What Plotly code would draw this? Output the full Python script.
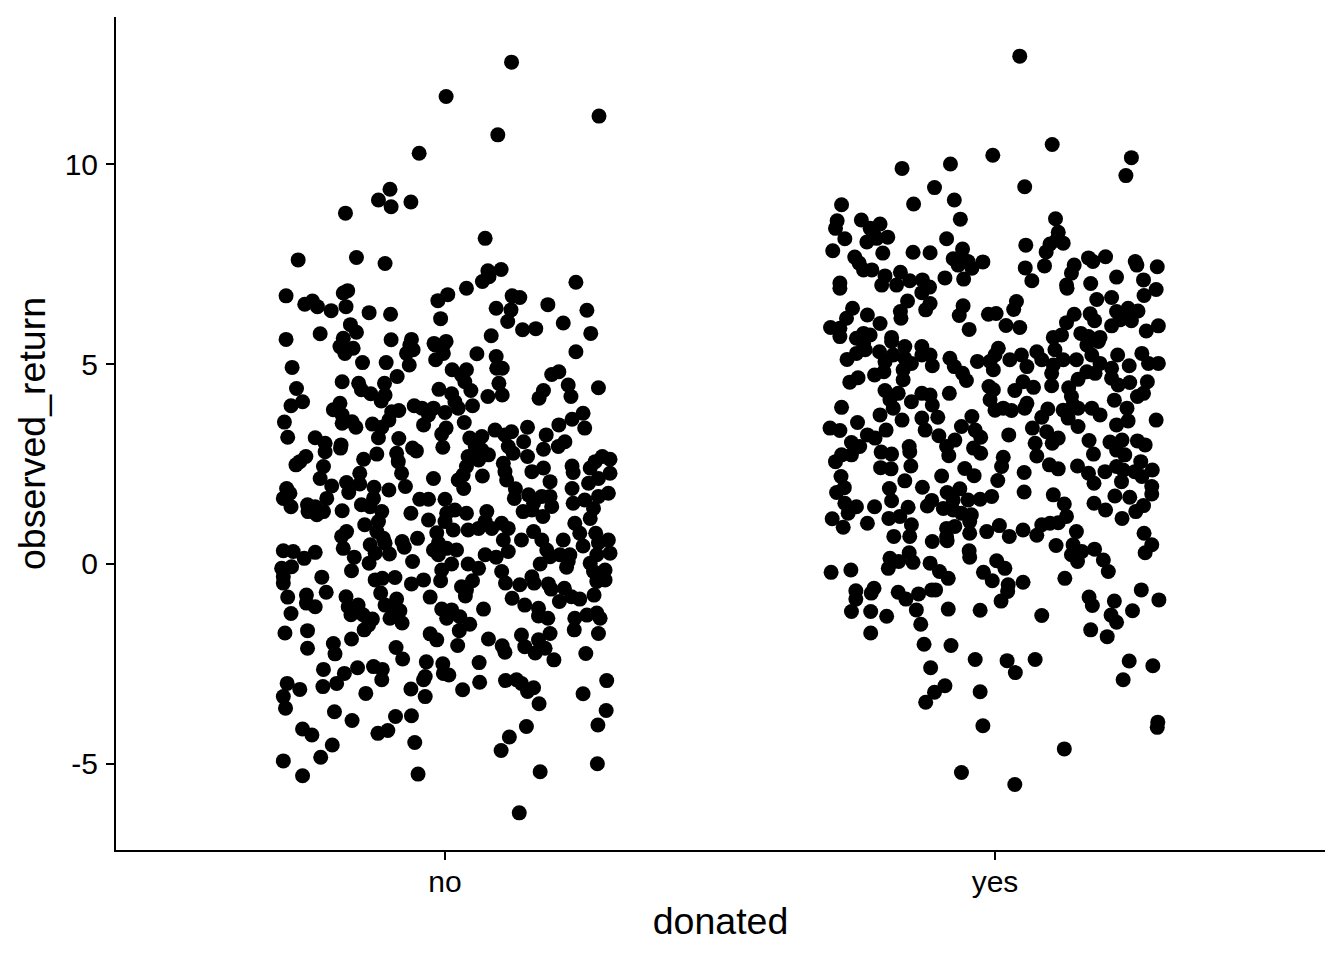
import plotly.graph_objects as go

categories = ["no", "yes"]
category_positions = [1, 2]
y_ticks = [-5, 0, 5, 10]
y_tick_labels = ["-5", "0", "5", "10"]

# (jittered category position, observed_return)
no_points = [
(1.121,12.56),(1.002,11.70),(1.280,11.21),(1.096,10.74),(.953,10.28),(.900,9.38),(.879,9.11),(.902,8.94),(.938,9.06),(.819,8.78),
(1.073,8.15),(.733,7.61),(.839,7.67),(.891,7.52),(1.102,7.37),(1.078,7.34),(1.080,7.19),(1.068,7.07),(1.238,7.05),(1.039,6.90),
(1.005,6.74),(.987,6.59),(.823,6.84),(.815,6.78),(.711,6.71),(.759,6.58),(.745,6.50),(.768,6.44),(.793,6.34),(.820,6.44),
(.862,6.29),(.901,6.25),(.992,6.14),(1.122,6.71),(1.136,6.67),(1.093,6.40),(1.120,6.36),(1.114,6.07),(1.187,6.49),(1.258,6.35),
(1.215,6.03),(1.141,5.86),(1.165,5.89),(1.265,5.77),(.828,5.99),(.839,5.80),(.773,5.76),(.815,5.65),(.711,5.62),(.902,5.61),
(.939,5.62),(1.084,5.71),(.980,5.52),(1.002,5.57),
(.809,5.44),(.818,5.27),(.833,5.40),(.936,5.48),(.930,5.27),(.942,5.36),(.935,4.98),(.982,5.48),(.997,5.48),(.997,5.27),(.983,5.11),
(1.058,5.26),(1.093,5.19),(1.104,4.90),(1.094,4.90),(1.238,5.31),(.722,4.92),(.850,5.04),(.893,5.04),(.913,4.69),
(1.013,4.86),(1.039,4.86),(1.030,4.73),(1.036,4.56),(1.047,4.34),(1.207,4.81),(1.194,4.74),(1.224,4.48),(1.229,4.19),(1.279,4.41),(1.179,4.34),(1.171,4.15),
(1.098,4.52),(1.104,4.23),(1.078,4.19),(.813,4.56),(.843,4.52),(.848,4.36),(.865,4.26),(.890,4.52),(.891,4.23),(.884,4.08),
(.730,4.39),(.741,4.06),(.720,3.96),(.989,4.37),(1.012,4.26),(1.018,4.06),(1.024,3.90),(1.050,3.96),
(.809,4.02),(.797,3.86),(.813,3.73),(.813,3.52),(.831,3.56),(.838,3.42),(.944,3.96),(.958,3.90),(.979,3.90),(.970,3.73),(1.000,3.79),(.961,3.48),
(.916,3.84),(.903,3.81),(.898,3.60),(.885,3.42),(.868,3.50),(.879,3.16),(1.035,3.54),(1.002,3.40),(.994,3.25),(.996,2.92),
(.708,3.55),(.714,3.17),(.764,3.16),(.782,3.02),(.782,2.81),(.811,2.98),(.810,2.90),(.916,3.14),(.941,2.90),(.948,2.83),
(.912,2.77),(.876,2.75),(.852,2.62),(.915,2.56),(.747,2.69),(.729,2.48),(.736,2.56),
(1.045,3.15),(1.067,3.19),(1.091,3.35),(1.121,3.31),(1.109,3.23),(1.150,3.42),(1.143,3.06),(1.184,3.23),(1.179,2.87),(1.207,3.48),(1.231,3.62),(1.251,3.77),(1.254,3.40),(1.218,3.06),(1.206,2.94),
(1.115,2.94),(1.124,2.77),(1.150,2.69),(1.055,2.94),(1.067,2.85),(1.042,2.69),(1.079,2.73),(1.061,2.60),(1.039,2.44),(1.106,2.52),(1.109,2.31),(1.033,2.23),(1.024,2.10),(1.034,1.89),(1.068,2.20),(1.112,2.10),
(.979,2.14),(.779,2.44),(.773,2.14),(.794,1.95),(.845,2.27),(.845,2.00),(.821,2.04),(.825,1.79),(.921,2.27),(.928,1.94),(.898,1.85),(.871,1.92),(.870,1.64),(.848,1.48),(.864,1.43),
(1.158,2.31),(1.179,2.40),(1.191,2.06),(1.128,1.88),(1.126,1.64),(1.152,1.73),(1.176,1.69),(1.191,1.69),(1.161,1.52),(1.194,1.44),(1.142,1.31),(1.158,1.35),(1.178,1.19),
(1.231,2.45),(1.233,2.29),(1.231,1.89),(1.286,2.69),(1.273,2.56),(1.264,2.40),(1.300,2.62),(1.300,2.27),(1.279,2.14),(1.261,2.02),(1.297,1.77),(1.279,1.69),(1.254,1.60),(1.233,1.52),(1.270,1.39),(1.264,1.14),(1.236,1.02),
(.712,1.89),(.706,1.64),(.720,1.43),(.718,1.77),(.750,1.48),(.751,1.31),(.764,1.43),(.767,1.23),(.779,1.31),(.785,1.64),(.813,1.33),
(.954,1.62),(.970,1.62),(1.000,1.62),(.938,1.27),(.970,1.10),(.885,1.31),(.879,1.06),(.854,.98),(.821,.81),(.812,.69),(.876,.81),(.888,.64),
(1.018,1.35),(1.003,1.27),(1.039,1.27),(1.000,1.06),(1.015,.85),(.985,.78),(1.076,1.31),(1.073,1.06),(1.042,.85),(1.061,.89),(1.085,.89),(1.103,1.02),(1.115,.89),(1.106,.60),(1.139,.60),(1.161,.81),(1.176,.60),(1.215,.60),(1.245,.77),(1.274,.77),(1.297,.60),
(.922,.56),(.950,.64),
(.706,.33),(.724,.31),(.744,.14),(.764,.29),(.815,.39),(.835,.17),(.830,-.17),(.862,.02),(.873,.27),(.864,.48),(.891,.52),(.899,.25),(.926,.42),(.941,.06),
(.979,.35),(.988,.23),(.988,.52),(1.003,.39),(1.021,.35),(1.012,.00),(.994,-.15),(.992,-.42),(1.042,.00),(1.061,-.11),(1.073,.23),(1.093,.17),(1.115,.31),(1.103,-.19),(1.110,-.48),(1.050,-.42),(1.030,-.57),(1.039,-.65),(1.037,-.80),
(1.185,.35),(1.191,.18),(1.173,.00),(1.209,.23),(1.227,.23),(1.224,.06),(1.221,-.08),(1.251,.45),(1.279,.53),(1.300,.27),(1.276,.23),(1.264,.02),(1.270,-.19),(1.291,-.15),(1.276,-.44),(1.291,-.40),(1.271,-.78),
(.703,-.11),(.721,-.07),(.706,-.32),(.706,-.48),(.776,-.33),(.784,-.71),(.714,-.83),(.748,-.78),(.748,-.98),(.764,-1.07),(.720,-1.24),
(.873,-.40),(.886,-.36),(.909,-.34),(.939,-.50),(.961,-.40),(.883,-.73),(.973,-.83),(.820,-.82),(.824,-1.07),(.842,-1.03),(.829,-1.27),(.851,-1.27),(.868,-1.38),(.861,-1.53),(.853,-1.65),
(.912,-.88),(.891,-1.03),(.903,-1.11),(.918,-1.17),(.900,-1.36),(.922,-1.48),(.994,-1.13),(1.012,-1.15),(1.003,-1.36),(1.027,-1.32),(1.045,-1.51),(1.026,-1.67),(.973,-1.75),(.985,-1.90),(1.023,-2.04),(1.070,-1.13),(1.079,-1.88),(1.104,-2.05),(1.109,-2.21),
(1.136,-.52),(1.158,-.32),(1.162,-.48),(1.188,-.50),(1.193,-.63),(1.217,-.61),(1.208,-.94),(1.230,-.82),(1.245,-.88),(1.122,-.86),(1.145,-1.03),(1.170,-1.11),(1.170,-1.30),(1.187,-1.36),
(1.236,-1.36),(1.258,-1.28),(1.276,-1.23),(1.282,-1.36),(1.235,-1.65),(1.279,-1.74),(1.191,-1.74),(1.139,-1.78),(1.170,-1.90),(1.145,-2.07),(1.164,-2.23),(1.182,-2.11),(1.198,-2.40),(1.256,-2.24),
(.709,-1.73),(.750,-1.67),(.750,-2.11),(.830,-1.88),(.797,-1.99),(.800,-2.25),(.911,-2.09),(.923,-2.38),(.779,-2.64),(.817,-2.74),(.841,-2.60),(.870,-2.57),(.886,-2.64),(.885,-2.90),(.803,-2.99),(.778,-3.07),
(.966,-2.45),(.996,-2.50),(1.062,-2.47),(.997,-2.74),(1.007,-2.78),(.964,-2.82),(.961,-2.90),(.938,-3.13),(.964,-3.32),(1.032,-3.15),(1.063,-2.96),
(1.110,-2.92),(1.130,-2.90),(1.139,-2.99),(1.161,-3.10),(1.150,-3.19),(1.171,-3.50),(1.148,-4.07),(1.117,-4.33),(1.102,-4.67),(1.173,-5.20),(1.135,-6.23),
(.713,-2.99),(.736,-3.14),(.706,-3.32),(.710,-3.61),(.856,-3.24),(.799,-3.70),(.831,-3.92),(.910,-3.82),(.939,-3.80),(.896,-4.17),(.878,-4.24),(.945,-4.47),(.951,-5.26),
(.741,-4.13),(.758,-4.28),(.795,-4.53),(.774,-4.84),(.706,-4.93),(.741,-5.30),(1.294,-2.92),(1.251,-3.25),(1.293,-3.67),(1.278,-4.03),(1.277,-5.00),
]

yes_points = [
(2.045,12.71),(2.104,10.50),(1.996,10.23),(2.248,10.17),(2.238,9.72),(1.919,10.01),(1.831,9.90),(2.054,9.44),(1.890,9.42),(1.852,9.01),
(1.926,9.11),(1.721,8.99),(1.937,8.63),(2.110,8.64),(1.713,8.59),(1.710,8.40),(1.757,8.61),(1.791,8.51),(1.773,8.40),(1.779,8.28),
(1.727,8.14),(1.805,8.18),(1.767,8.06),(1.785,8.15),(2.115,8.30),(1.912,8.14),(2.124,8.03),(2.100,8.01),(2.112,8.11),(2.056,7.98),
(2.093,7.81),(1.705,7.84),(1.796,7.78),(1.851,7.80),(1.882,7.79),(1.941,7.88),(1.745,7.68),(1.753,7.53),(1.761,7.36),(1.776,7.36),
(1.924,7.64),(1.939,7.69),(1.951,7.57),(1.933,7.48),(1.958,7.40),(1.978,7.56),(2.170,7.66),(2.178,7.57),(2.201,7.69),(2.255,7.57),
(2.258,7.48),(2.295,7.44),(2.144,7.48),(2.139,7.28),(2.055,7.41),(2.090,7.46),(2.067,7.09),(2.221,7.18),(2.270,7.11),(2.174,7.02),
(2.130,6.98),(2.131,6.90),(2.293,6.87),(2.271,6.72),(2.212,6.67),(2.185,6.62),(1.909,7.16),(1.943,7.13),(1.828,7.30),(1.800,7.21),
(1.794,6.98),(1.821,6.98),(1.845,7.09),(1.868,7.11),(1.881,6.93),(1.867,6.79),(1.718,7.03),(1.718,6.90),(1.841,6.58),(1.882,6.52),
(1.874,6.36),(1.828,6.32),(1.829,6.15),(1.942,6.46),(1.935,6.22),(2.039,6.57),(2.034,6.37),(1.988,6.25),(2.002,6.27),(2.020,5.97),
(2.045,5.92),(1.953,5.87),(1.741,6.40),(1.730,6.15),(1.701,5.92),(1.718,5.90),(1.768,6.23),(1.791,6.02),(1.761,5.77),(1.773,5.73),
(1.748,5.65),(1.718,5.69),(1.812,5.67),(2.144,6.25),(2.130,6.04),(2.173,6.26),(2.181,6.09),(2.221,6.32),(2.242,6.40),(2.260,6.33),
(2.236,6.23),(2.248,6.09),(2.212,5.96),(2.227,6.11),(2.297,5.96),(2.275,5.83),(2.121,5.73),(2.106,5.67),(2.156,5.77),(2.170,5.69),(2.191,5.67),
(1.761,5.52),(1.764,5.36),(1.748,5.27),(1.731,5.12),(1.812,5.57),(1.790,5.31),(1.815,5.23),(1.836,5.44),(1.836,5.15),(1.800,5.06),(1.798,4.81),(1.781,4.73),(1.848,5.02),(1.833,4.86),(1.833,4.61),(1.867,5.44),(1.882,5.23),(1.867,5.23),(1.886,4.96),
(1.751,4.66),(1.736,4.55),(1.918,5.15),(1.926,4.94),(1.941,4.77),(1.948,4.59),(1.917,4.27),(1.968,5.07),(1.991,5.07),(2.006,5.40),(2.000,5.23),(1.997,4.86),(2.027,5.11),(2.048,5.23),(2.058,4.94),(2.076,5.31),(2.085,5.11),(2.106,4.98),(2.103,4.77),(2.103,4.46),
(2.109,5.36),(2.124,5.11),(2.148,5.11),(2.167,5.48),(2.188,5.57),(2.176,5.23),(2.191,5.02),(2.182,4.77),(2.167,4.81),(2.151,4.62),(2.134,4.41),(2.139,4.19),(2.142,3.98),
(2.223,5.23),(2.267,5.27),(2.297,5.02),(2.279,5.02),(2.244,4.96),(2.212,4.90),(2.212,4.65),(2.224,4.48),(2.245,4.54),(2.277,4.56),(2.270,4.27),(2.259,4.19),(2.217,4.10),(2.240,3.90),(2.293,3.60),(2.242,3.58),(2.221,3.48),
(1.989,4.44),(1.997,4.36),(1.991,4.11),(2.000,3.85),(2.030,3.84),(2.036,4.34),(2.051,4.56),(2.070,4.42),(2.058,4.02),(2.054,3.90),(2.015,3.90),(2.096,3.88),(2.085,3.67),(2.124,3.85),(2.133,3.65),(2.151,3.44),(2.151,3.90),(2.176,3.90),(2.191,3.73),
(1.800,4.34),(1.809,4.11),(1.824,4.27),(1.815,3.90),(1.831,3.60),(1.791,3.73),(1.721,3.92),(1.750,3.54),(1.848,4.06),(1.867,4.27),(1.882,4.23),(1.886,3.98),(1.867,3.65),(1.896,3.67),(1.873,3.35),
(1.700,3.40),(1.718,3.34),(1.768,3.23),(1.782,3.15),(1.802,3.35),(1.958,3.69),(1.939,3.44),(1.964,3.35),(1.974,3.17),(1.898,3.21),(1.927,3.10),(1.912,2.94),(1.916,2.71),(1.961,2.90),(1.974,2.77),
(2.025,3.23),(2.068,3.40),(2.094,3.31),(2.115,3.15),(2.104,3.02),(2.073,3.02),(2.076,2.70),(2.015,2.67),(2.012,2.44),(2.005,2.09),(2.053,2.29),(2.053,1.80),
(2.099,2.48),(2.115,2.38),(2.150,2.45),(2.170,2.27),(2.171,3.09),(2.179,2.75),(2.180,2.02),(2.200,2.31),(2.209,3.05),(2.231,3.10),(2.259,3.08),(2.273,2.98),(2.221,2.85),(2.236,2.73),(2.221,2.44),(2.233,2.35),(2.230,2.06),(2.265,2.56),(2.254,2.31),(2.286,2.35),(2.267,2.19),(2.285,1.94),(2.285,1.75),(2.218,1.70),(2.245,1.67),(2.270,1.46),(2.256,1.31),(2.180,1.52),(2.201,1.35),(2.231,1.14),(2.271,.77),
(2.106,1.73),(2.126,1.50),(2.130,1.19),(2.115,1.03),(2.085,.98),(2.100,1.02),(2.148,.81),(2.076,.72),(2.051,.85),(2.026,.69),(2.008,.96),(1.985,.81),(1.954,.77),(1.957,1.23),(1.954,1.06),
(1.994,1.69),(1.973,1.62),(1.951,1.60),(1.936,1.88),(1.913,1.79),(1.924,1.60),(1.885,1.59),(1.877,1.45),(1.906,1.39),(1.924,1.35),(1.939,1.27),(1.927,.94),(1.912,.89),(1.912,.68),(1.886,.56),
(1.945,2.39),(1.962,2.21),(1.903,2.20),(1.868,1.92),(1.836,2.08),(1.808,1.89),(1.812,1.58),(1.842,1.42),(1.827,1.19),(1.807,1.14),(1.848,.98),(1.816,.69),(1.845,.69),
(1.844,2.94),(1.845,2.81),(1.847,2.45),(1.793,2.80),(1.812,2.75),(1.792,2.41),(1.811,2.38),
(1.739,3.04),(1.754,2.94),(1.739,2.73),(1.721,2.73),(1.710,2.56),(1.720,2.19),(1.726,1.91),(1.712,1.79),(1.727,1.52),(1.748,1.43),(1.733,1.27),(1.781,1.43),(1.704,1.13),(1.724,.92),(1.768,1.02),
(1.913,.58),(1.953,.33),(1.954,.17),(2.111,.46),(2.142,.48),(2.139,.23),(2.158,.31),(2.150,.06),(2.181,.37),(2.197,.10),(2.206,-.19),(2.285,.48),(2.273,.28),
(1.809,.14),(1.844,.28),(1.825,.06),(1.851,.04),(1.806,-.11),(1.882,.02),(1.899,-.19),(1.915,-.36),(2.003,.08),(2.018,-.11),(1.979,-.21),(1.995,-.42),(2.024,-.52),(2.051,-.46),(2.023,-.69),(2.011,-.93),(2.127,-.36),
(1.702,-.21),(1.738,-.15),(1.747,-.67),(1.747,-.88),(1.780,-.61),(1.775,-.73),(1.739,-1.19),(1.774,-1.19),(1.803,-1.31),(1.774,-1.73),
(1.824,-.71),(1.838,-.88),(1.861,-.75),(1.885,-.65),(1.892,-.65),(1.857,-1.15),(1.865,-1.51),(1.871,-2.01),(1.915,-1.13),(1.920,-2.04),(1.973,-1.16),(1.883,-2.60),(1.964,-2.39),(2.022,-2.42),(2.037,-2.72),(2.073,-2.39),(1.909,-3.05),(1.890,-3.21),(1.874,-3.46),(1.973,-3.20),(1.978,-4.05),(2.126,-4.63),(1.939,-5.22),(2.036,-5.52),
(2.085,-1.29),(2.171,-.83),(2.177,-1.04),(2.217,-.93),(2.211,-1.28),(2.221,-1.46),(2.250,-1.17),(2.266,-.65),(2.298,-.90),(2.174,-1.65),(2.204,-1.82),(2.244,-2.43),(2.287,-2.55),(2.233,-2.90),(2.296,-3.96),(2.295,-4.09),
]

FONT = "Liberation Sans"
fig = go.Figure()
for name, pts in zip(categories, [no_points, yes_points]):
    fig.add_trace(go.Scatter(
        x=[p[0] for p in pts], y=[p[1] for p in pts], mode="markers", name=name,
        marker=dict(color="black", size=15, line=dict(width=0)), showlegend=False,
    ))

axis_common = dict(showgrid=False, zeroline=False, showline=True, linecolor="black", linewidth=2,
                   ticks="outside", tickcolor="black", tickwidth=2, ticklen=8,
                   tickfont=dict(family=FONT, size=30, color="black"))
fig.update_layout(
    width=1344, height=960, margin=dict(l=116, r=19, t=17, b=110),
    plot_bgcolor="white", paper_bgcolor="white",
    xaxis=dict(range=[0.4018, 2.6], tickmode="array", tickvals=category_positions, ticktext=categories,
               ticklabelstandoff=-4,
               title=dict(text="donated", font=dict(family=FONT, size=37.5, color="black"), standoff=11), **axis_common),
    yaxis=dict(range=[-7.16, 13.69], tickmode="array", tickvals=y_ticks, ticktext=y_tick_labels,
               ticklabelstandoff=2,
               title=dict(text="observed_return", font=dict(family=FONT, size=37.5, color="black"), standoff=8), **axis_common),
)
fig.write_html("out.html", config={"displayModeBar": False},
               post_script="document.body.style.margin='0';document.body.style.overflow='hidden';")
